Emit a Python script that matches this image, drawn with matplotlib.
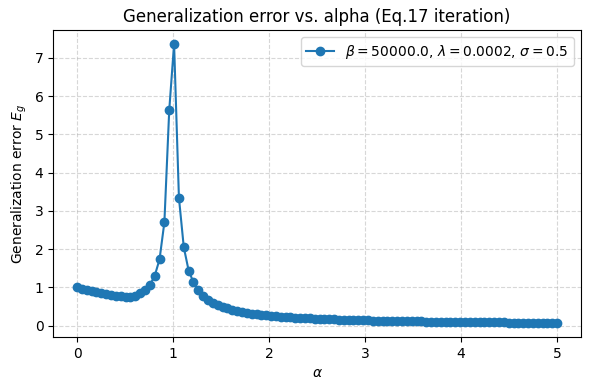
import numpy as np
import matplotlib
matplotlib.use("Agg")
import matplotlib.pyplot as plt

# alpha grid: 100 evenly spaced points on [0, 5]
alpha = np.linspace(0, 5, 100)

# generalization error
eg_low = [1.00, 0.96, 0.93, 0.90, 0.87, 0.84, 0.82, 0.80, 0.78, 0.77,
          0.75, 0.76, 0.78, 0.84, 0.92, 1.06, 1.30, 1.73, 2.70, 5.63]
eg_peak = [7.36, 3.34, 2.05, 1.44, 1.13, 0.93, 0.78, 0.68, 0.60, 0.54,
           0.49, 0.45, 0.41, 0.38, 0.36, 0.33, 0.31, 0.30, 0.28, 0.27]
eg_mid = [0.255, 0.245, 0.235, 0.226, 0.218, 0.210, 0.203, 0.196, 0.190, 0.184,
          0.178, 0.173, 0.168, 0.163, 0.158, 0.154, 0.150, 0.146, 0.142, 0.139]
eg_tail = [0.135, 0.132, 0.129, 0.126, 0.123, 0.121, 0.118, 0.116, 0.114, 0.112,
           0.110, 0.108, 0.104, 0.102, 0.100, 0.099, 0.097, 0.096, 0.094, 0.093,
           0.091, 0.090, 0.089, 0.088, 0.086, 0.085, 0.084, 0.083, 0.082, 0.081,
           0.080, 0.076, 0.075, 0.074, 0.073, 0.072, 0.071, 0.070, 0.069, 0.068]
eg = np.array(eg_low + eg_peak + eg_mid + eg_tail)

label = r"$\beta=50000.0$, $\lambda=0.0002$, $\sigma=0.5$"

fig, ax = plt.subplots(figsize=(5.9, 3.9), dpi=100)
ax.plot(alpha, eg, marker="o", color="#1f77b4", label=label)

ax.set_title("Generalization error vs. alpha (Eq.17 iteration)")
ax.set_xlabel(r"$\alpha$")
ax.set_ylabel(r"Generalization error $E_g$")
ax.grid(True, linestyle="--", alpha=0.5)
ax.legend(loc="upper right")

fig.subplots_adjust(left=0.090, right=0.985, top=0.923, bottom=0.136)
plt.savefig("out.png", dpi=100)
